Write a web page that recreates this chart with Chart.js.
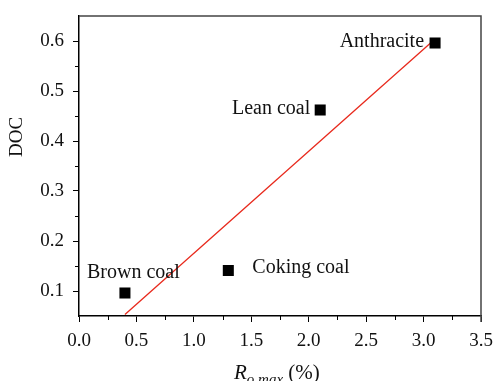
<!DOCTYPE html>
<html>
<head>
<meta charset="utf-8">
<script src="https://cdn.jsdelivr.net/npm/chart.js@4.4.1/dist/chart.umd.min.js"></script>
<style>
  html, body { margin: 0; padding: 0; background: #fff; }
  #wrap { width: 495px; height: 381px; }
</style>
</head>
<body>
<div id="wrap"><canvas id="docChart" width="495" height="381"></canvas></div>
<script>
// coal samples
const coalNames = ['Brown coal', 'Coking coal', 'Lean coal', 'Anthracite'];
const roMax = [0.4, 1.3, 2.1, 3.1];
const docValues = [0.096, 0.141, 0.462, 0.596];

// linear fit line (end points)
const fitX = [0.4, 3.1];
const fitY = [0.053, 0.604];

const xTicks = [0.0, 0.5, 1.0, 1.5, 2.0, 2.5, 3.0, 3.5];
const yTicks = [0.1, 0.2, 0.3, 0.4, 0.5, 0.6];

const serif = '"Liberation Serif", "DejaVu Serif", serif';

// where each sample name sits relative to its square
const labelPlace = [
    { dx: -38, dy: -15, align: 'left' },
    { dx: 24, dy: 2, align: 'left' },
    { dx: -10, dy: 4, align: 'right' },
    { dx: -11, dy: 4, align: 'right' }
];

const extras = {
    id: 'extras',
    afterDraw(chart) {
        const ctx = chart.ctx;
        const xs = chart.scales.x, ys = chart.scales.y;
        const a = chart.chartArea;
        ctx.save();

        // minor ticks
        ctx.strokeStyle = '#000';
        ctx.lineWidth = 1;
        ctx.beginPath();
        for (let i = 0; i < xTicks.length - 1; i++) {
            const px = Math.round(xs.getPixelForValue((xTicks[i] + xTicks[i + 1]) / 2)) + 0.5;
            ctx.moveTo(px, a.bottom);
            ctx.lineTo(px, a.bottom + 4);
        }
        for (let i = 0; i < yTicks.length - 1; i++) {
            const py = Math.round(ys.getPixelForValue((yTicks[i] + yTicks[i + 1]) / 2)) + 0.5;
            ctx.moveTo(a.left, py);
            ctx.lineTo(a.left - 4, py);
        }
        ctx.stroke();

        // top and right frame
        ctx.strokeStyle = '#444';
        ctx.lineWidth = 1.5;
        ctx.beginPath();
        ctx.moveTo(a.left, a.top);
        ctx.lineTo(a.right, a.top);
        ctx.lineTo(a.right, a.bottom + 6);
        ctx.stroke();

        // sample names
        ctx.fillStyle = '#111';
        ctx.font = '20px ' + serif;
        ctx.textBaseline = 'alphabetic';
        coalNames.forEach((name, i) => {
            const p = labelPlace[i];
            ctx.textAlign = p.align;
            ctx.fillText(name, xs.getPixelForValue(roMax[i]) + p.dx, ys.getPixelForValue(docValues[i]) + p.dy);
        });

        // axis titles
        ctx.textAlign = 'center';
        ctx.save();
        ctx.translate(17, 137);
        ctx.rotate(-Math.PI / 2);
        ctx.textBaseline = 'middle';
        ctx.font = '19px ' + serif;
        ctx.fillText('DOC', 0, 0);
        ctx.restore();

        ctx.textAlign = 'left';
        ctx.textBaseline = 'alphabetic';
        let x = 234;
        const base = 379;
        ctx.font = 'italic 21px ' + serif;
        ctx.fillText('R', x, base);
        x += ctx.measureText('R').width;
        ctx.font = 'italic 15px ' + serif;
        ctx.fillText('o,max', x, base + 5);
        x += ctx.measureText('o,max').width;
        ctx.font = '21px ' + serif;
        ctx.fillText(' (%)', x, base);

        ctx.restore();
    }
};

const ctx = document.getElementById('docChart').getContext('2d');
const docChart = new Chart(ctx, {
    type: 'scatter',
    data: {
        datasets: [{
            label: 'DOC',
            data: roMax.map((v, i) => ({ x: v, y: docValues[i] })),
            pointStyle: 'rect',
            pointRadius: 7.8,
            pointHoverRadius: 7.8,
            backgroundColor: '#000',
            borderColor: '#000',
            borderWidth: 0,
            showLine: false
        }, {
            label: 'Fit',
            data: fitX.map((v, i) => ({ x: v, y: fitY[i] })),
            showLine: true,
            borderColor: '#e8291c',
            borderWidth: 1.3,
            pointRadius: 0,
            fill: false
        }]
    },
    options: {
        responsive: false,
        animation: false,
        layout: { padding: { top: 16, right: 14, left: 0, bottom: 0 } },
        plugins: {
            legend: { display: false },
            tooltip: { enabled: false }
        },
        scales: {
            x: {
                type: 'linear',
                min: 0,
                max: 3.5,
                afterBuildTicks: s => { s.ticks = xTicks.map(v => ({ value: v })); },
                afterFit: s => { s.height = 65; s.paddingLeft = 0; s.paddingRight = 0; },
                grid: { display: true, drawOnChartArea: false, drawTicks: true, tickLength: 6, color: '#000', lineWidth: 1 },
                border: { display: true, color: '#000', width: 1.5 },
                ticks: {
                    padding: 8,
                    color: '#111',
                    font: { family: serif, size: 19 },
                    callback: v => v.toFixed(1)
                }
            },
            y: {
                type: 'linear',
                min: 0.05,
                max: 0.65,
                afterBuildTicks: s => { s.ticks = yTicks.map(v => ({ value: v })); },
                afterFit: s => { s.width = 79; s.paddingTop = 0; s.paddingBottom = 0; },
                grid: { display: true, drawOnChartArea: false, drawTicks: true, tickLength: 6, color: '#000', lineWidth: 1 },
                border: { display: true, color: '#000', width: 1.5 },
                ticks: {
                    padding: 9,
                    color: '#111',
                    font: { family: serif, size: 19 },
                    callback: v => v.toFixed(1)
                }
            }
        }
    },
    plugins: [extras]
});
</script>
</body>
</html>
